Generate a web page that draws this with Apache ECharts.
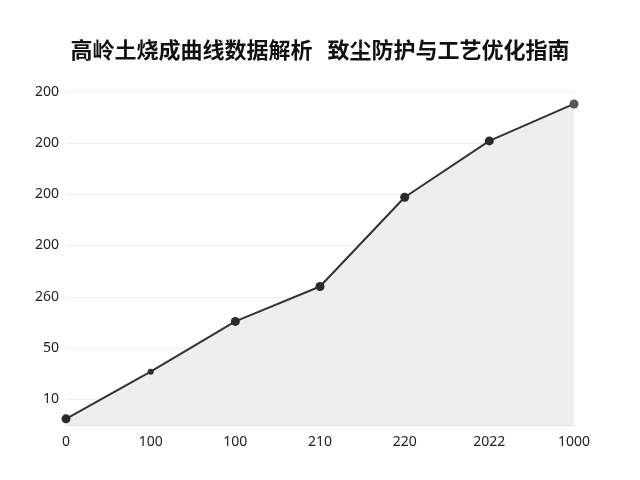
<!DOCTYPE html>
<html>
<head>
<meta charset="utf-8">
<script src="https://cdn.jsdelivr.net/npm/echarts@6/dist/echarts.min.js"></script>
<style>
	html, body { margin: 0; padding: 0; background: #fff; }
	#chart { width: 640px; height: 480px; }
</style>
</head>
<body>
<div id="chart"></div>
<script>
	// 标题与坐标轴文字（按原图照录）
	var titleText = '高岭土烧成曲线数据解析   致尘防护与工艺优化指南';
	var xLabels = ['0', '100', '100', '210', '220', '2022', '1000'];
	var yLabels = ['10', '50', '260', '200', '200', '200', '200'];
	// 每个 y 标签在刻度上的位置
	var yLabelValues = [25, 75, 125, 175, 225, 275, 325];
	// 曲线数值（按图上位置估读）
	var curveValues = [6, 52, 101, 135, 222, 277, 313];

	var myChart = echarts.init(document.getElementById('chart'));

	var option = {
		backgroundColor: '#ffffff',
		animation: false,
		title: {
			text: titleText,
			left: 'center',
			top: 34,
			textStyle: {
				fontFamily: 'Noto Sans CJK SC',
				fontSize: 22,
				fontWeight: 'bold',
				color: '#111111'
			}
		},
		grid: {
			left: 66,
			right: 66,
			top: 66,
			bottom: 55
		},
		xAxis: {
			type: 'category',
			boundaryGap: false,
			data: xLabels,
			axisLine: { lineStyle: { color: '#e3e3e3', width: 1 } },
			axisTick: { show: false },
			axisLabel: {
				margin: 10,
				fontFamily: 'Noto Sans',
				fontSize: 14,
				color: '#222222'
			}
		},
		yAxis: {
			type: 'value',
			min: 0,
			max: 350,
			interval: 25,
			axisLine: { show: false },
			axisTick: { show: false },
			axisLabel: {
				margin: 7,
				fontFamily: 'Noto Sans',
				fontSize: 14,
				color: '#222222',
				formatter: function (v) {
					var i = yLabelValues.indexOf(v);
					return i >= 0 ? yLabels[i] : '';
				}
			},
			splitLine: {
				lineStyle: { color: ['transparent', '#efefef'], width: 1 }
			}
		},
		series: [{
			type: 'line',
			data: curveValues,
			symbol: 'circle',
			symbolSize: function (v, params) {
				return params.dataIndex === 1 ? 6 : 9;
			},
			lineStyle: { color: '#333333', width: 2 },
			itemStyle: {
				color: function (params) {
					return params.dataIndex === curveValues.length - 1 ? '#555555' : '#2b2b2b';
				}
			},
			areaStyle: { color: '#eeeeee', opacity: 1 }
		}]
	};
	myChart.setOption(option);
</script>
</body>
</html>
